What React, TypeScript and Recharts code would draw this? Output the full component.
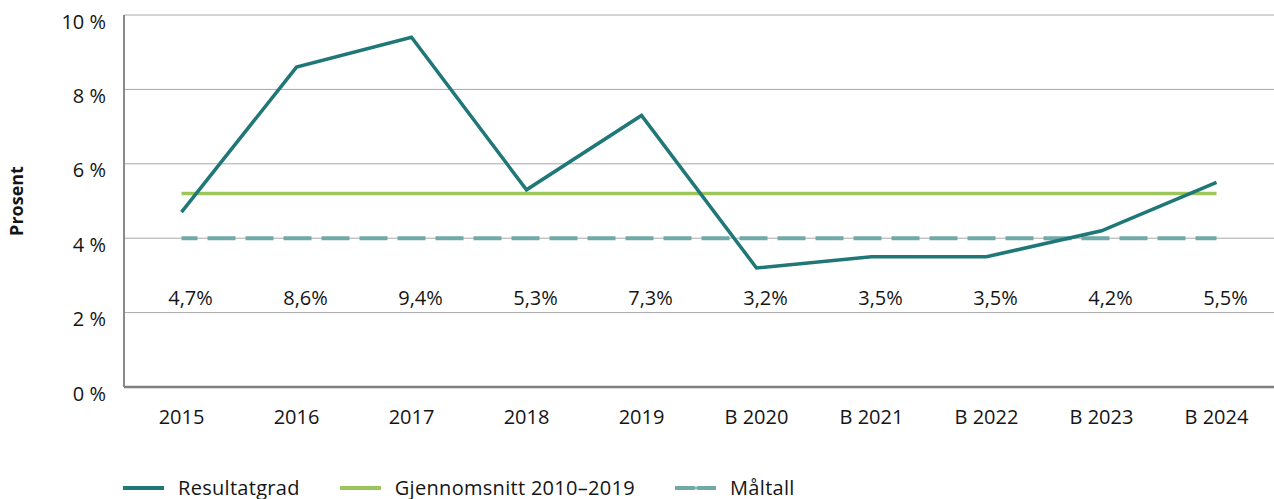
import React from "react";
import {
  LineChart,
  Line,
  XAxis,
  YAxis,
  CartesianGrid,
  Legend,
  LabelList,
} from "recharts";

const CATEGORIES = [
  "2015",
  "2016",
  "2017",
  "2018",
  "2019",
  "B 2020",
  "B 2021",
  "B 2022",
  "B 2023",
  "B 2024",
];
const RESULTATGRAD = [4.7, 8.6, 9.4, 5.3, 7.3, 3.2, 3.5, 3.5, 4.2, 5.5];
const GJENNOMSNITT = [5.2, 5.2, 5.2, 5.2, 5.2, 5.2, 5.2, 5.2, 5.2, 5.2];
const MALTALL = [4, 4, 4, 4, 4, 4, 4, 4, 4, 4];
const Y_TICKS = [0, 2, 4, 6, 8, 10];

const COLORS = {
  res: "#1f7877",
  avg: "#9cc65b",
  target: "#6faaa9",
};

const LEGEND_ITEMS = [
  { key: "res", label: "Resultatgrad", dashed: false },
  { key: "avg", label: "Gjennomsnitt 2010–2019", dashed: false },
  { key: "target", label: "Måltall", dashed: true },
];

const FONT = "'Open Sans', sans-serif";
const TEXT = "#151515";
const TICK_SIZE = 20;

const data = CATEGORIES.map((name, i) => ({
  name,
  res: RESULTATGRAD[i],
  avg: GJENNOMSNITT[i],
  target: MALTALL[i],
}));

const fmtPct = (v: number) => `${v.toFixed(1).replace(".", ",")}%`;

function YTick({ x, y, payload }: any) {
  return (
    <text
      x={x}
      y={y + 6.5}
      dy="0.35em"
      textAnchor="end"
      fill={TEXT}
      fontSize={TICK_SIZE}
      fontFamily={FONT}
    >
      {payload.value} %
    </text>
  );
}

function ValueLabel(props: any) {
  const { x, value } = props;
  return (
    <text
      x={x + 9}
      y={297.5}
      dy="0.35em"
      textAnchor="middle"
      fill={TEXT}
      fontSize={TICK_SIZE}
      fontFamily={FONT}
    >
      {fmtPct(value)}
    </text>
  );
}

function LegendContent() {
  return (
    <div
      style={{
        height: 22,
        display: "flex",
        alignItems: "center",
        paddingLeft: 123,
        fontFamily: FONT,
        fontSize: 20,
        letterSpacing: 0.3,
        color: TEXT,
      }}
    >
      {LEGEND_ITEMS.map((item) => (
        <div
          key={item.key}
          style={{ display: "flex", alignItems: "center", marginRight: 40 }}
        >
          <svg width={41} height={6} style={{ marginRight: 14 }}>
            <line
              x1={0}
              y1={3}
              x2={41}
              y2={3}
              stroke={COLORS[item.key as keyof typeof COLORS]}
              strokeWidth={4}
              strokeDasharray={item.dashed ? "19 4" : undefined}
              strokeLinecap="round"
            />
          </svg>
          <span style={{ lineHeight: "22px" }}>{item.label}</span>
        </div>
      ))}
    </div>
  );
}

export default function App() {
  return (
    <div style={{ position: "absolute", left: 0, top: 0, background: "#fff" }}>
      <LineChart
        width={1274}
        height={499}
        data={data}
        margin={{ top: 15, right: 0, left: 0, bottom: 0 }}
      >
        <CartesianGrid vertical={false} stroke="#a8a8a8" strokeWidth={1} />
        <XAxis
          dataKey="name"
          height={90}
          padding={{ left: 57.5, right: 57.5 }}
          tickLine={false}
          tickSize={0}
          tickMargin={23}
          axisLine={{ stroke: "#7f7f7f", strokeWidth: 2.5 }}
          tick={{ fill: TEXT, fontSize: TICK_SIZE, fontFamily: FONT }}
          interval={0}
        />
        <YAxis
          width={124}
          domain={[0, 10]}
          ticks={Y_TICKS}
          tickLine={false}
          tickSize={0}
          tickMargin={18}
          axisLine={{ stroke: "#8a8a8a", strokeWidth: 2 }}
          tick={<YTick />}
          label={({ viewBox }: any) => (
            <text
              x={17}
              y={viewBox.y + viewBox.height / 2}
              transform={`rotate(-90, 17, ${viewBox.y + viewBox.height / 2})`}
              dy="0.35em"
              textAnchor="middle"
              fill={TEXT}
              fontSize={18}
              fontWeight={700}
              fontFamily={FONT}
            >
              Prosent
            </text>
          )}
        />
        <Legend verticalAlign="bottom" align="left" content={<LegendContent />} />
        <Line
          type="linear"
          dataKey="avg"
          name="Gjennomsnitt 2010–2019"
          stroke={COLORS.avg}
          strokeWidth={3.5}
          dot={false}
          activeDot={false}
          isAnimationActive={false}
        />
        <Line
          type="linear"
          dataKey="target"
          name="Måltall"
          stroke={COLORS.target}
          strokeWidth={4}
          strokeDasharray="28 10"
          strokeDashoffset={12}
          dot={false}
          activeDot={false}
          isAnimationActive={false}
        />
        <Line
          type="linear"
          dataKey="res"
          name="Resultatgrad"
          stroke={COLORS.res}
          strokeWidth={3.5}
          dot={false}
          activeDot={false}
          isAnimationActive={false}
        >
          <LabelList dataKey="res" content={<ValueLabel />} />
        </Line>
      </LineChart>
    </div>
  );
}
